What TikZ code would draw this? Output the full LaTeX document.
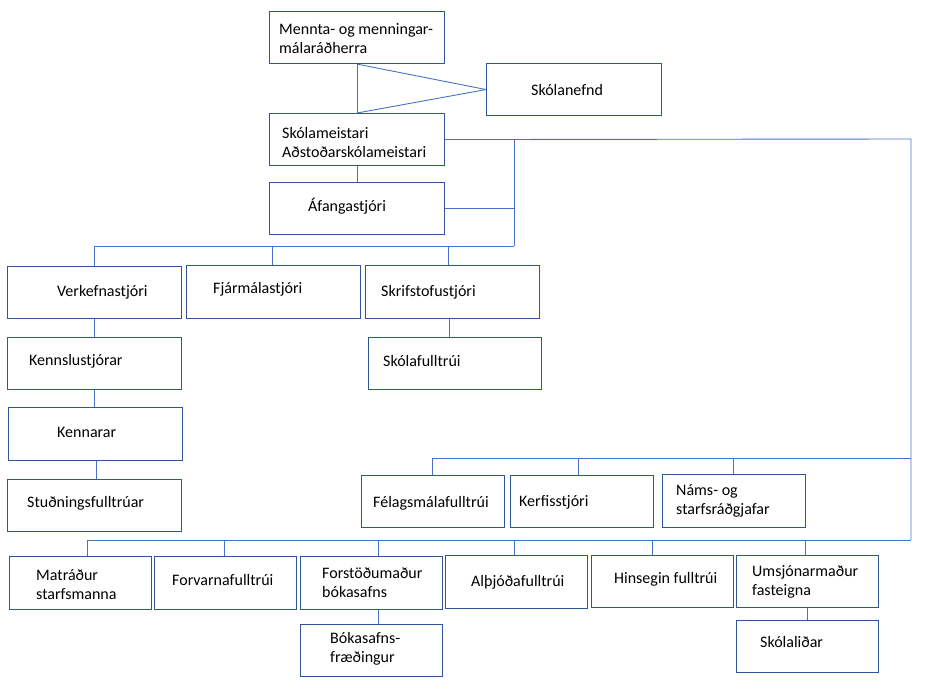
\documentclass[tikz,border=0pt]{standalone}
\usepackage{fontspec}
\setmainfont{Carlito}
\definecolor{boxc}{HTML}{2F5597}
\definecolor{linec}{HTML}{4472C4}
\newcommand\obox[5]{\node[box, anchor=north west, minimum width={#4-#2}, minimum height={#5-#3}] (#1) at (#2,#3) {};}
\begin{document}
\begin{tikzpicture}[x=1pt,y=-1pt,
  box/.style={draw=boxc, line width=1.1pt, rectangle, inner sep=0pt, fill=white},
  txt/.style={anchor=west, inner sep=0pt, align=left, font=\fontsize{16}{19.3}\selectfont, text=black},
  conn/.style={draw=linec, line width=0.9pt}]
\useasboundingbox (0,0) rectangle (925,690);
% boxes
\obox{men}{269}{11}{444}{63}
\obox{nef}{486}{63}{661}{115}
\obox{sm}{269}{113}{444}{165}
\obox{af}{269}{182}{444}{234}
\obox{verk}{7}{266}{181}{318}
\obox{fjar}{186}{265}{360}{318}
\obox{skrif}{365}{265}{539}{318}
\obox{kenn}{7}{337}{181}{389}
\obox{skf}{368}{337}{541}{389}
\obox{kenr}{8}{407}{182}{460}
\obox{stud}{7}{479}{181}{531}
\obox{fel}{361}{475}{504}{527}
\obox{ker}{510}{475}{653}{527}
\obox{nams}{662}{474}{805}{527}
\obox{mat}{9}{556}{151}{609}
\obox{forv}{154}{556}{296}{609}
\obox{forst}{300}{556}{442}{609}
\obox{alth}{445}{555}{587}{608}
\obox{hins}{591}{555}{733}{607}
\obox{ums}{736}{555}{878}{607}
\obox{bok}{300}{624}{442}{676}
\obox{skl}{736}{620}{878}{672}
% texts
\node[txt] (tmen) at (279,38.5) {Mennta- og menningar-\\málaráðherra};
\node[txt] (tnef) at (531,90) {Skólanefnd};
\node[txt] (tsm) at (282,142.5) {Skólameistari\\Aðstoðarskólameistari};
\node[txt] (taf) at (308,206) {Áfangastjóri};
\node[txt] (tverk) at (57,292) {Verkefnastjóri};
\node[txt] (tfjar) at (213,289) {Fjármálastjóri};
\node[txt] (tskrif) at (381,292) {Skrifstofustjóri};
\node[txt] (tkenn) at (29,361) {Kennslustjórar};
\node[txt] (tskf) at (383,361) {Skólafulltrúi};
\node[txt] (tkenr) at (57,432) {Kennarar};
\node[txt] (tstud) at (27,503) {Stuðningsfulltrúar};
\node[txt] (tfel) at (373,503) {Félagsmálafulltrúi};
\node[txt] (tker) at (519,502) {Kerfisstjóri};
\node[txt] (tnams) at (676,501) {Náms- og\\starfsráðgjafar};
\node[txt] (tmat) at (36,584.5) {Matráður\\starfsmanna};
\node[txt] (tforv) at (172,579.5) {Forvarnafulltrúi};
\node[txt] (tforst) at (322,582.5) {Forstöðumaður\\bókasafns};
\node[txt] (talth) at (471,582) {Alþjóðafulltrúi};
\node[txt] (thins) at (614,579) {Hinsegin fulltrúi};
\node[txt] (tums) at (752,582) {Umsjónarmaður\\fasteigna};
\node[txt] (tbok) at (330,648.5) {Bókasafns-\\fræðingur};
\node[txt] (tskl) at (760,642) {Skólaliðar};
% coordinates
\coordinate (rt) at (911,139);
\coordinate (rb) at (911,540);
\coordinate (j1) at (514,139);
\coordinate (j2) at (514,246);
\coordinate (b2) at (911,458);
\coordinate (m1) at (94,246);
\coordinate (m2) at (272,246);
\coordinate (m3) at (448,246);
\coordinate (n1) at (432,458);
\coordinate (n2) at (578,458);
\coordinate (n3) at (733,458);
\coordinate (p1) at (87,540);
\coordinate (p2) at (224,540);
\coordinate (p3) at (378,540);
\coordinate (p4) at (514,540);
\coordinate (p5) at (652,540);
\coordinate (p6) at (805,540);
% connectors
\draw[conn] (men.south) -- (sm.north);
\draw[conn] (men.south) -- (nef.west);
\draw[conn] (sm.north) -- (nef.west);
\draw[conn] (sm.south) -- (af.north);
\draw[conn] (sm.east) -- (rt) -- (rb);
\draw[conn] (j1) -- (j2);
\draw[conn] (af.east) -- (af.east -| j1);
\draw[conn] (m1) -- (j2);
\draw[conn] (m1) -- (m1 |- verk.north);
\draw[conn] (m2) -- (m2 |- fjar.north);
\draw[conn] (m3) -- (m3 |- skrif.north);
\draw[conn] (verk.south) -- (verk.south |- kenn.north);
\draw[conn] (kenn.south) -- (kenn.south |- kenr.north);
\draw[conn] ([xshift=1pt]kenr.south) -- ([xshift=1pt]kenr.south |- stud.north);
\draw[conn] ([xshift=-3pt]skrif.south) -- ([xshift=-3pt]skrif.south |- skf.north);
\draw[conn] (n1) -- (b2);
\draw[conn] (n1) -- (n1 |- fel.north);
\draw[conn] (n2) -- (n2 |- ker.north);
\draw[conn] (n3) -- (n3 |- nams.north);
\draw[conn] (p1) -- (rb);
\draw[conn] (p1) -- (p1 |- mat.north);
\draw[conn] (p2) -- (p2 |- forv.north);
\draw[conn] (p3) -- (p3 |- forst.north);
\draw[conn] (p4) -- (p4 |- alth.north);
\draw[conn] (p5) -- (p5 |- hins.north);
\draw[conn] (p6) -- (p6 |- ums.north);
\draw[conn] (p3 |- forst.south) -- (p3 |- bok.north);
\draw[conn] (ums.south) -- (ums.south |- skl.north);
\end{tikzpicture}
\end{document}
